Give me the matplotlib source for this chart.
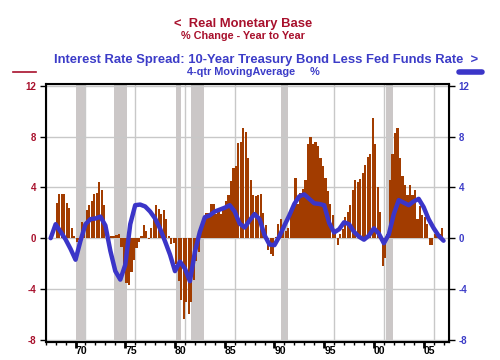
import numpy as np
import matplotlib
matplotlib.use('Agg')
import matplotlib.pyplot as plt
from matplotlib.lines import Line2D

plt.rcParams['font.family'] = ['Liberation Sans', 'DejaVu Sans']

# real monetary base, % change year to year (quarterly, first quarter 1968 Q1)
base_start = 1968.0
base_yoy = [2.8, 3.5, 3.5, 3.5, 2.8, 2.4, 0.8, 0.2, -0.3, -0.15, 1.3, 0.6,
            2.2, 2.6, 2.9, 3.5, 3.6, 4.4, 3.8, 2.6, 0.0, -0.7, 0.15, 0.2,
            0.25, 0.3, -0.7, -2.7, -3.5, -3.7, -2.65, -1.7, -0.8, -0.3, 0.2, 1.0,
            0.6, -0.1, 0.8, 1.8, 2.6, 2.3, 1.9, 2.2, 1.5, 0.2, -0.45, -0.4,
            -2.0, -3.4, -4.9, -6.4, -5.0, -6.0, -5.0, -3.3, -1.8, -1.1, 0.6, 1.4,
            2.0, 2.0, 2.7, 2.7, 1.9, 2.1, 1.9, 2.4, 2.9, 3.4, 4.5, 5.5,
            5.7, 7.5, 7.6, 8.7, 8.4, 6.3, 4.6, 3.4, 3.3, 3.4, 3.5, 2.0,
            1.0, -0.9, -1.25, -1.4, 0.1, 1.1, 1.5, 0.6, 0.6, 0.8, 1.9, 2.4,
            4.75, 2.7, 3.6, 3.85, 4.6, 7.4, 8.0, 7.4, 7.6, 7.3, 6.3, 5.7,
            4.75, 3.7, 2.7, 1.8, 0.6, -0.5, 0.3, 0.7, 1.7, 2.1, 2.6, 3.8,
            4.6, 4.4, 4.7, 5.15, 5.8, 6.4, 6.6, 9.5, 7.4, 4.0, 2.1, -2.2,
            -1.6, 0.3, 4.6, 6.6, 8.3, 8.7, 6.3, 4.9, 4.2, 3.4, 4.2, 3.4,
            3.8, 1.5, 2.5, 1.8, 1.7, 1.1, -0.5, -0.5, 0.3, 0.2, 0.3, 0.8]

# 10y treasury less fed funds, 4-qtr moving average (read every half year)
spread_years = [1967.5, 1968.0, 1968.5, 1969.0, 1969.5, 1970.0, 1970.5, 1971.0,
                1971.5, 1972.0, 1972.5, 1973.0, 1973.5, 1974.0, 1974.5, 1975.0,
                1975.5, 1976.0, 1976.5, 1977.0, 1977.5, 1978.0, 1978.5, 1979.0,
                1979.5, 1980.0, 1980.5, 1981.0, 1981.5, 1982.0, 1982.5, 1983.0,
                1983.5, 1984.0, 1984.5, 1985.0, 1985.5, 1986.0, 1986.5, 1987.0,
                1987.5, 1988.0, 1988.5, 1989.0, 1989.5, 1990.0, 1990.5, 1991.0,
                1991.5, 1992.0, 1992.5, 1993.0, 1993.5, 1994.0, 1994.5, 1995.0,
                1995.5, 1996.0, 1996.5, 1997.0, 1997.5, 1998.0, 1998.5, 1999.0,
                1999.5, 2000.0, 2000.5, 2001.0, 2001.5, 2002.0, 2002.5, 2003.0,
                2003.5, 2004.0, 2004.5, 2005.0, 2005.5, 2006.0, 2006.5, 2007.0]
spread = [0.0, 1.1, 0.5, -0.1, -0.85, -1.7, -0.2, 1.1,
          1.5, 1.55, 1.7, 1.0, -1.0, -2.6, -3.27, -2.1,
          1.1, 2.6, 2.65, 2.5, 2.1, 1.55, 0.75, -0.25,
          -1.3, -2.6, -1.85, -2.4, -3.4, -1.1, 0.5, 1.65,
          1.8, 2.1, 2.25, 2.4, 2.6, 2.1, 1.15, 0.84,
          1.4, 1.9, 1.5, 0.24, -0.5, -0.55, 0.15, 1.0,
          1.8, 2.7, 3.3, 3.45, 3.1, 2.75, 2.7, 2.6,
          1.2, 0.45, 0.7, 1.25, 1.1, 0.5, 0.12, -0.12,
          0.2, 0.78, 0.35, -0.4, 0.3, 1.9, 3.0, 2.8,
          2.6, 2.9, 3.1, 2.45, 1.5, 0.8, 0.2, -0.2]

recessions = [(1970.0, 1970.93), (1973.88, 1975.18), (1980.06, 1980.56),
              (1981.65, 1982.95), (1990.62, 1991.33), (2001.24, 2001.94)]

year_ticks = [1970, 1975, 1980, 1985, 1990, 1995, 2000, 2005]
year_labels = ['70', '75', '80', '85', '90', '95', '00', '05']
grid_years = [1971, 1976, 1981, 1986, 1991, 1996, 2001, 2006]
yticks = [12, 8, 4, 0, -4, -8]

red = '#A8102C'
blue = '#3C3CC8'
bar_col = '#A23C00'
line_col = '#3B35C8'

fig = plt.figure(figsize=(5, 3.6), dpi=100)
ax = fig.add_axes([0.0914, 0.05, 0.8066, 0.7167])

for a, b in recessions:
    ax.axvspan(a, b, color='#CBC7C7', lw=0, zorder=0)
for g in grid_years:
    ax.axvline(g, color='#C8C8C8', lw=1, zorder=1)
for t in yticks:
    ax.axhline(t, color='#C8C8C8', lw=1, zorder=1)

xb = base_start + 0.125 + 0.25 * np.arange(len(base_yoy))
ax.bar(xb, base_yoy, width=0.22, color=bar_col, lw=0, zorder=2)

ax2 = ax.twinx()
ax2.plot(spread_years, spread, color=line_col, lw=3.2, solid_capstyle='round',
         solid_joinstyle='round', zorder=3)

for a_ in (ax, ax2):
    a_.set_xlim(1967.38, 2007.55)
    a_.set_ylim(-8.19, 12.16)
    a_.set_yticks(yticks)
ax.set_zorder(1)
ax.patch.set_visible(False)
ax2.set_zorder(2)

ax.set_yticklabels([str(t) for t in yticks], color=red, fontsize=7, fontweight='bold')
ax2.set_yticklabels([str(t) for t in yticks], color=blue, fontsize=7, fontweight='bold')
ax.tick_params(axis='y', direction='out', length=4, width=1, pad=3)
ax2.tick_params(axis='y', direction='out', length=4, width=1, pad=3)

ax.set_xticks(year_ticks)
ax.set_xticklabels(year_labels, fontsize=7.5, fontweight='bold')
for lbl in ax.get_xticklabels():
    lbl.set_horizontalalignment('left')
ax.set_xticks(np.arange(1967, 2008), minor=True)
ax.tick_params(axis='x', which='major', direction='out', length=4.5, width=2, pad=-1.5)
ax.tick_params(axis='x', which='minor', direction='out', length=2.5, width=1)

for s in ax2.spines.values():
    s.set_linewidth(1.5)

fig.text(0.486, 0.933, '<  Real Monetary Base', color=red, fontsize=9.4,
         fontweight='bold', ha='center', va='center')
fig.text(0.486, 0.899, '% Change - Year to Year', color=red, fontsize=7.8,
         fontweight='bold', ha='center', va='center')
fig.text(0.532, 0.833, 'Interest Rate Spread: 10-Year Treasury Bond Less Fed Funds Rate  >',
         color=blue, fontsize=9.4, fontweight='bold', ha='center', va='center')
fig.text(0.506, 0.80, '4-qtr MovingAverage     %', color=blue, fontsize=7.8,
         fontweight='bold', ha='center', va='center')

fig.add_artist(Line2D([0.026, 0.072], [0.80, 0.80], color=red, lw=1.2))
fig.add_artist(Line2D([0.918, 0.964], [0.80, 0.80], color=line_col, lw=4,
                      solid_capstyle='round'))

fig.savefig('out.png', dpi=100)
